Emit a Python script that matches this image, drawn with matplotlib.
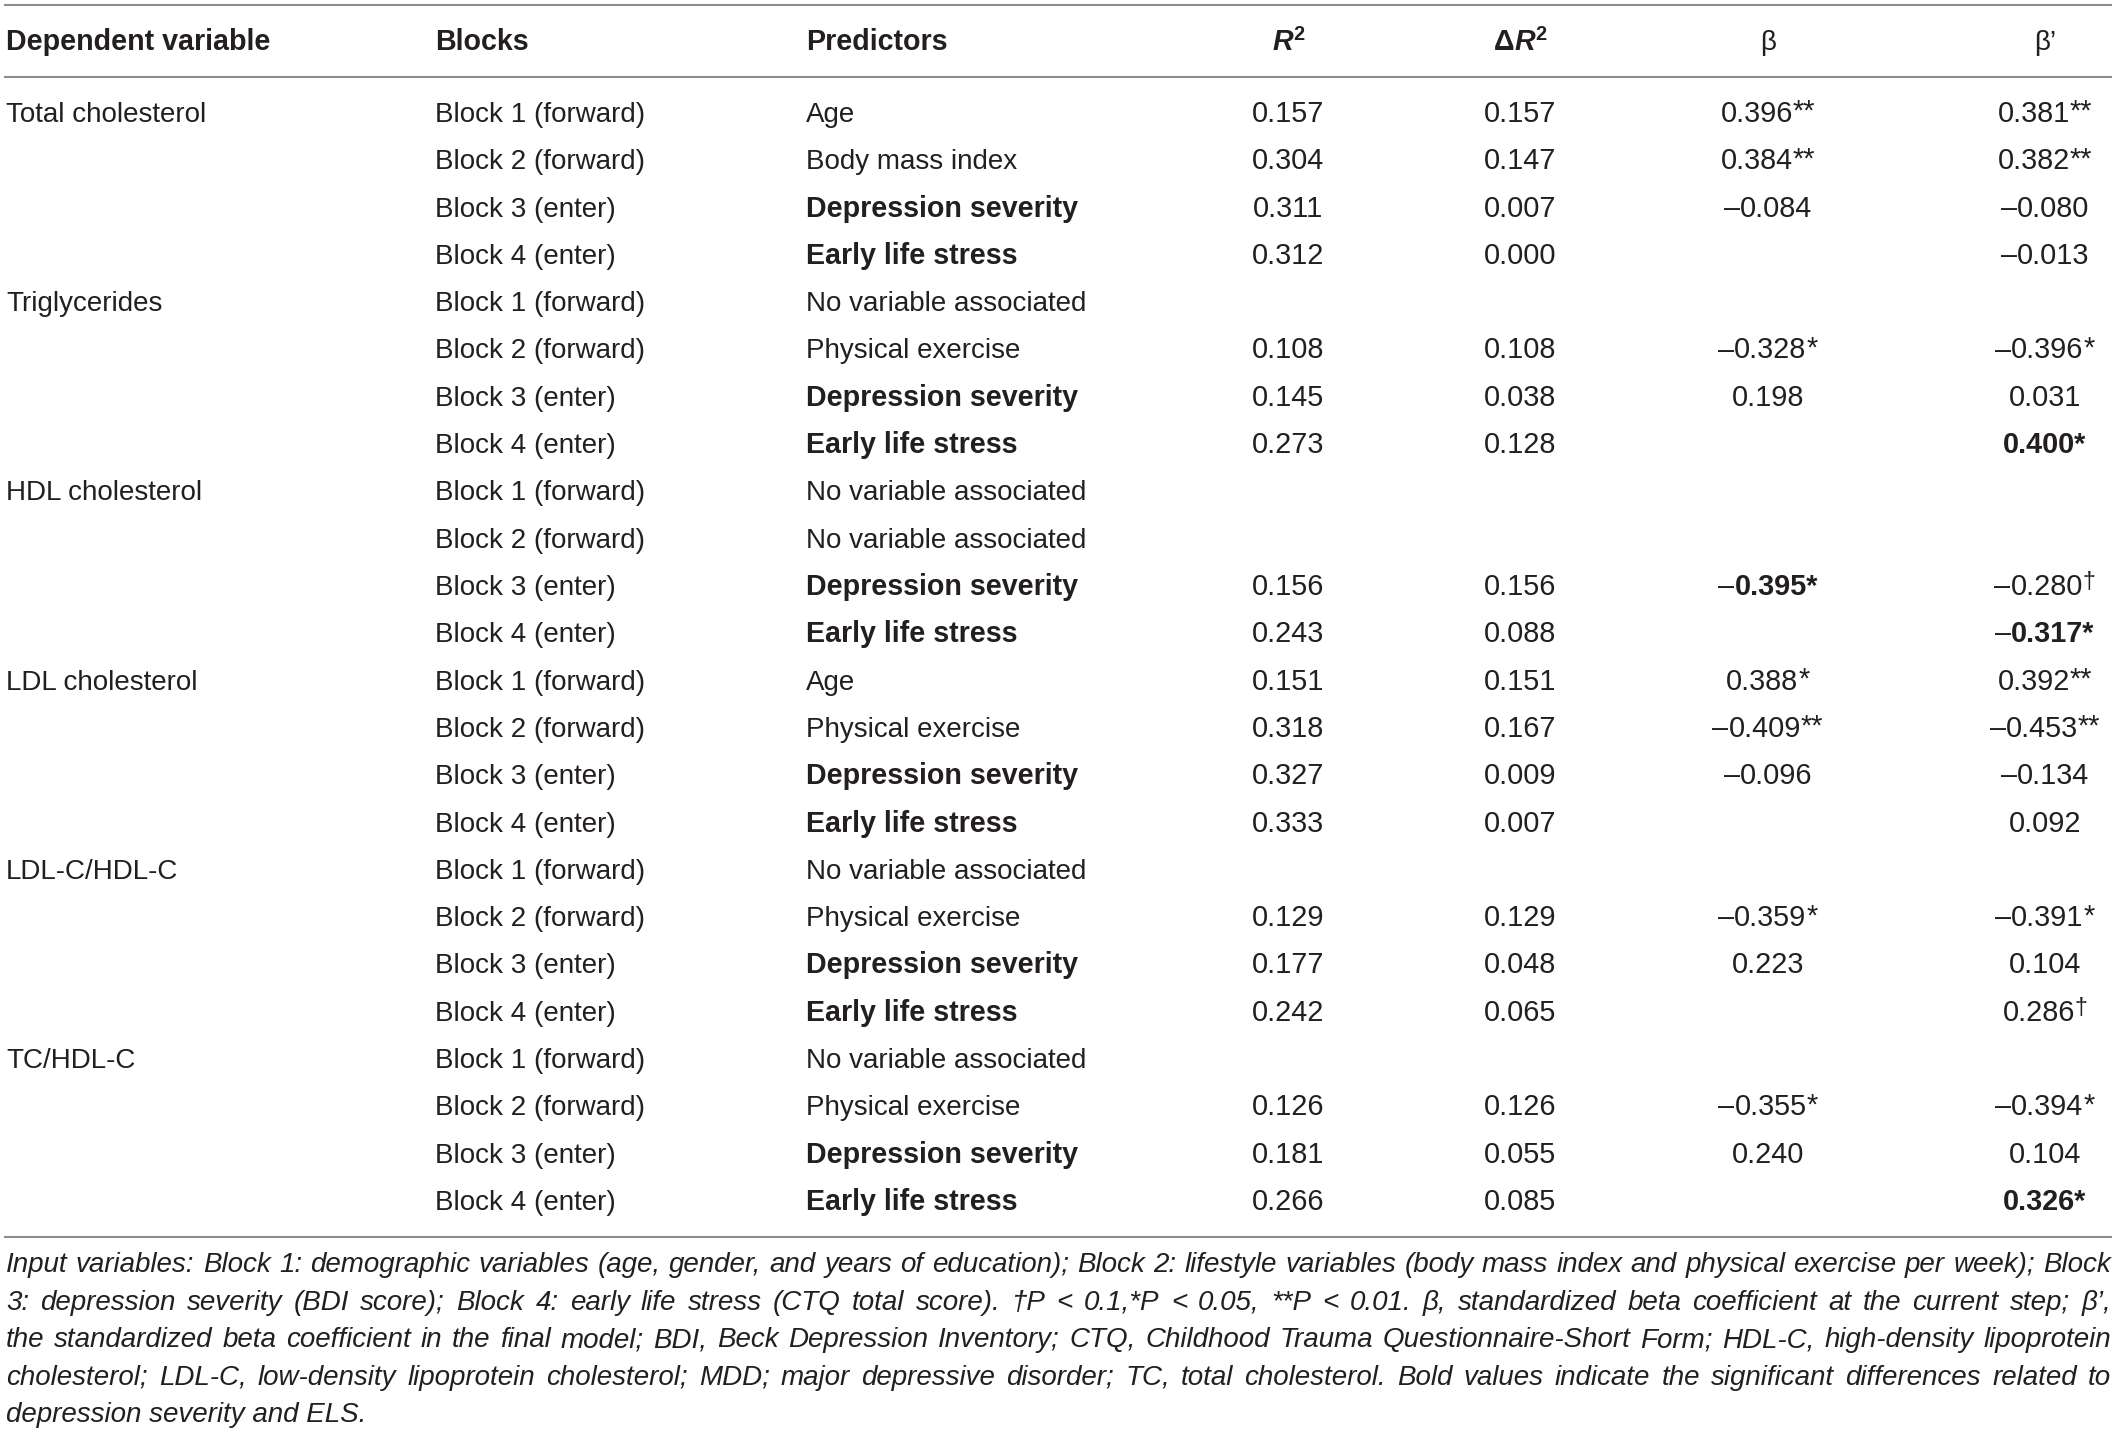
import matplotlib
matplotlib.use("Agg")
import matplotlib.pyplot as plt

# ---------------- data ----------------
dependent_vars = ["Total cholesterol", "Triglycerides", "HDL cholesterol",
                  "LDL cholesterol", "LDL-C/HDL-C", "TC/HDL-C"]
blocks = ["Block 1 (forward)", "Block 2 (forward)", "Block 3 (enter)", "Block 4 (enter)"]
predictors = [
    "Age", "Body mass index", "Depression severity", "Early life stress",
    "No variable associated", "Physical exercise", "Depression severity", "Early life stress",
    "No variable associated", "No variable associated", "Depression severity", "Early life stress",
    "Age", "Physical exercise", "Depression severity", "Early life stress",
    "No variable associated", "Physical exercise", "Depression severity", "Early life stress",
    "No variable associated", "Physical exercise", "Depression severity", "Early life stress",
]
bold_predictors = ["Depression severity", "Early life stress"]
r2 = [0.157, 0.304, 0.311, 0.312,
      None, 0.108, 0.145, 0.273,
      None, None, 0.156, 0.243,
      0.151, 0.318, 0.327, 0.333,
      None, 0.129, 0.177, 0.242,
      None, 0.126, 0.181, 0.266]
delta_r2 = [0.157, 0.147, 0.007, 0.000,
            None, 0.108, 0.038, 0.128,
            None, None, 0.156, 0.088,
            0.151, 0.167, 0.009, 0.007,
            None, 0.129, 0.048, 0.065,
            None, 0.126, 0.055, 0.085]
beta = [0.396, 0.384, -0.084, None,
        None, -0.328, 0.198, None,
        None, None, -0.395, None,
        0.388, -0.409, -0.096, None,
        None, -0.359, 0.223, None,
        None, -0.355, 0.240, None]
beta_sig = ["**", "**", "", "",
            "", "*", "", "",
            "", "", "*", "",
            "*", "**", "", "",
            "", "*", "", "",
            "", "*", "", ""]
beta_bold = [False] * 24
beta_bold[10] = True
beta_final = [0.381, 0.382, -0.080, -0.013,
              None, -0.396, 0.031, 0.400,
              None, None, -0.280, -0.317,
              0.392, -0.453, -0.134, 0.092,
              None, -0.391, 0.104, 0.286,
              None, -0.394, 0.104, 0.326]
beta_final_sig = ["**", "**", "", "",
                  "", "*", "", "*",
                  "", "", "\u2020", "*",
                  "**", "**", "", "",
                  "", "*", "", "\u2020",
                  "", "*", "", "*"]
beta_final_bold = [False] * 24
for i in (7, 11, 23):
    beta_final_bold[i] = True

footnote_lines = [
    "Input variables: Block 1: demographic variables (age, gender, and years of education); Block 2: lifestyle variables (body mass index and physical exercise per week); Block",
    "3: depression severity (BDI score); Block 4: early life stress (CTQ total score). \u2020P < 0.1,*P < 0.05, **P < 0.01. \u03b2, standardized beta coefficient at the current step; \u03b2\u2019,",
    "the standardized beta coefficient in the final model; BDI, Beck Depression Inventory; CTQ, Childhood Trauma Questionnaire-Short Form; HDL-C, high-density lipoprotein",
    "cholesterol; LDL-C, low-density lipoprotein cholesterol; MDD; major depressive disorder; TC, total cholesterol. Bold values indicate the significant differences related to",
    "depression severity and ELS.",
]

# ---------------- layout ----------------
W, H = 2119, 1434
FONT = "Liberation Sans"
TXT = "#231f20"
LINE = "#8c8c8c"
FS = 20.0      # regular text
FS_B = 20.6    # bold text
FS_N = 20.8    # numbers

fig = plt.figure(figsize=(W / 100, H / 100), dpi=100)
ax = fig.add_axes([0, 0, 1, 1])
ax.set_xlim(0, W)
ax.set_ylim(H, 0)
ax.axis("off")
renderer = fig.canvas.get_renderer()


def measure(s, **kw):
    t = ax.text(0, 0, s, family=FONT, **kw)
    w = t.get_window_extent(renderer).width
    t.remove()
    return w


def draw_runs(x, y, runs, ha="left"):
    widths = [measure(s, **{k: v for k, v in p.items() if k != "dy"}) for s, p in runs]
    total = sum(widths)
    if ha == "center":
        x0 = x - total / 2
    elif ha == "right":
        x0 = x - total
    else:
        x0 = x
    for (s, p), w in zip(runs, widths):
        kw = {k: v for k, v in p.items() if k != "dy"}
        kw.setdefault("color", TXT)
        ax.text(x0, y + p.get("dy", 0), s, family=FONT, ha="left", va="baseline", **kw)
        x0 += w


def fmt(v):
    s = "%.3f" % abs(v)
    return ("\u2013" + s) if v < 0 else s


def value_runs(v, sig, bold):
    runs = []
    if v < 0:
        runs.append(("\u2013", dict(size=FS_N)))
    num = "%.3f" % abs(v)
    if bold:
        runs.append((num + sig, dict(size=FS_N, weight="bold")))
    else:
        runs.append((num, dict(size=FS_N)))
        if sig == "\u2020":
            runs.append((sig, dict(size=FS_N * 0.8, dy=-6)))
        elif sig:
            runs.append((sig, dict(size=FS_N, dy=-2)))
    return runs


# rules
x_l, x_r = 4, 2112
for yl in (5, 77, 1237):
    ax.plot([x_l, x_r], [yl, yl], color=LINE, lw=1.5, solid_capstyle="butt")

# column anchors
X_DEP, X_BLK, X_PRED = 6, 435, 806
X_R2, X_DR2, X_B, X_BF = 1288, 1520, 1768, 2045

# header
HY = 50
hb = dict(size=FS_B, weight="bold")
draw_runs(X_DEP, HY, [("Dependent variable", hb)])
draw_runs(X_BLK, HY, [("Blocks", hb)])
draw_runs(X_PRED, HY, [("Predictors", hb)])
draw_runs(X_R2, HY, [("R", dict(size=FS_B, weight="bold", style="italic")),
                     ("2", dict(size=FS_B * 0.7, weight="bold", dy=-10))], ha="center")
draw_runs(X_DR2, HY, [("\u0394", dict(size=FS_B, weight="bold")),
                      ("R", dict(size=FS_B, weight="bold", style="italic")),
                      ("2", dict(size=FS_B * 0.7, weight="bold", dy=-10))], ha="center")
draw_runs(X_B, HY, [("\u03b2", dict(size=FS))], ha="center")
draw_runs(X_BF, HY, [("\u03b2\u2019", dict(size=FS))], ha="center")

# body
Y0, DY = 122, 47.3
for i in range(24):
    y = Y0 + i * DY
    if i % 4 == 0:
        draw_runs(X_DEP, y, [(dependent_vars[i // 4], dict(size=FS))])
    draw_runs(X_BLK, y, [(blocks[i % 4], dict(size=FS))])
    if predictors[i] in bold_predictors:
        draw_runs(X_PRED, y, [(predictors[i], dict(size=FS_B, weight="bold"))])
    else:
        draw_runs(X_PRED, y, [(predictors[i], dict(size=FS))])
    if r2[i] is not None:
        draw_runs(X_R2, y, [(fmt(r2[i]), dict(size=FS_N))], ha="center")
    if delta_r2[i] is not None:
        draw_runs(X_DR2, y, [(fmt(delta_r2[i]), dict(size=FS_N))], ha="center")
    if beta[i] is not None:
        draw_runs(X_B, y, value_runs(beta[i], beta_sig[i], beta_bold[i]), ha="center")
    if beta_final[i] is not None:
        draw_runs(X_BF, y, value_runs(beta_final[i], beta_final_sig[i], beta_final_bold[i]), ha="center")

# footnote (justified, size fitted to the line width)
FY0, FDY = 1272, 37.6
fx0, fx1 = 6, 2111
s0 = 16.0
fits = []
for line in footnote_lines[:-1]:
    nat = measure(line, size=s0, style="italic")
    fits.append(s0 * (fx1 - fx0) / nat)
FN_FS = min(fits) * 0.995

for k, line in enumerate(footnote_lines):
    y = FY0 + k * FDY
    kw = dict(size=FN_FS, style="italic")
    if k == len(footnote_lines) - 1:
        ax.text(fx0, y, line, family=FONT, ha="left", va="baseline", color=TXT, **kw)
        continue
    words = line.split(" ")
    ws = [measure(w_, **kw) for w_ in words]
    gap = (fx1 - fx0 - sum(ws)) / (len(words) - 1)
    x = fx0
    for w_, wd in zip(words, ws):
        ax.text(x, y, w_, family=FONT, ha="left", va="baseline", color=TXT, **kw)
        x += wd + gap

fig.savefig("out.png", dpi=100, facecolor="white")
